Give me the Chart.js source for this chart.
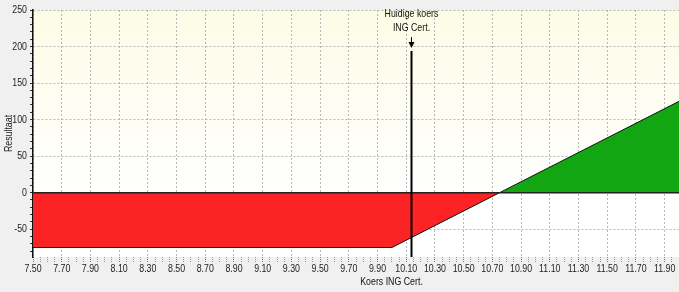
<!DOCTYPE html>
<html>
<head>
<meta charset="utf-8">
<script src="https://cdn.jsdelivr.net/npm/chart.js@4.4.1/dist/chart.umd.min.js"></script>
<style>
  html, body { margin: 0; padding: 0; background: #f0f0f0; }
  #wrap { width: 679px; height: 292px; }
</style>
</head>
<body>
<div id="wrap"><canvas id="payoff"></canvas></div>
<script>
// koers (x) en resultaat (y) van de uitbetalingslijn
var koers = [7.50, 10.00, 10.75, 12.00];
var resultaat = [-75, -75, 0, 125];
var xTickLabels = [7.50, 7.70, 7.90, 8.10, 8.30, 8.50, 8.70, 8.90, 9.10, 9.30, 9.50,
                   9.70, 9.90, 10.10, 10.30, 10.50, 10.70, 10.90, 11.10, 11.30, 11.50, 11.70, 11.90];
var yTickLabels = [-50, 0, 50, 100, 150, 200, 250];
var huidigeKoers = 10.13;
var huidigeLabel = ['Huidige koers', 'ING Cert.'];

var fontFam = '"Liberation Sans", Arial, sans-serif';
var ctx = document.getElementById("payoff");

// smalle letters, zoals Arial Narrow in het origineel
var smal = 0.8;
var ctx2d = ctx.getContext('2d');
var origFill = ctx2d.fillText.bind(ctx2d);
ctx2d.fillText = function(t, x, y, mw){
  var w = ctx2d.measureText(t).width * smal;
  if (mw !== undefined && mw < w) w = mw;
  origFill(t, x, y, w > 0 ? w : undefined);
};

function isMajorX(v){
  return xTickLabels.some(function(t){ return Math.abs(t - v) < 1e-6; });
}
function isMajorY(v){
  return yTickLabels.indexOf(Math.round(v)) >= 0 && Math.abs(v - Math.round(v)) < 1e-6;
}

var achtergrond = {
  id: 'achtergrond',
  beforeDraw: function(chart){
    var c = chart.ctx, a = chart.chartArea;
    c.save();
    c.fillStyle = '#f0f0f0';
    c.fillRect(0, 0, chart.width, chart.height);
    var g = c.createLinearGradient(0, a.top, 0, a.bottom);
    g.addColorStop(0, '#fdfce6');
    g.addColorStop(0.75, '#ffffff');
    g.addColorStop(1, '#ffffff');
    c.fillStyle = g;
    c.fillRect(a.left, a.top, a.right - a.left, a.bottom - a.top);
    c.restore();
  },
  afterDatasetsDraw: function(chart){
    var c = chart.ctx, a = chart.chartArea;
    var xs = chart.scales.x, ys = chart.scales.y;
    c.save();
    // nullijn
    c.strokeStyle = '#222';
    c.lineWidth = 1.5;
    c.beginPath();
    c.moveTo(a.left, ys.getPixelForValue(0));
    c.lineTo(a.right, ys.getPixelForValue(0));
    c.stroke();
    // huidige koers
    var px = Math.round(xs.getPixelForValue(huidigeKoers)) + 0.5;
    c.strokeStyle = '#000';
    c.lineWidth = 2;
    c.beginPath();
    c.moveTo(px, ys.getPixelForValue(194));
    c.lineTo(px, a.bottom);
    c.stroke();
    c.lineWidth = 1;
    c.beginPath();
    c.moveTo(px, ys.getPixelForValue(213));
    c.lineTo(px, ys.getPixelForValue(200));
    c.stroke();
    c.fillStyle = '#000';
    var tip = ys.getPixelForValue(198);
    c.beginPath();
    c.moveTo(px - 3, tip - 6);
    c.lineTo(px + 3, tip - 6);
    c.lineTo(px, tip);
    c.closePath();
    c.fill();
    c.font = '11px ' + fontFam;
    c.fillStyle = '#111';
    c.textAlign = 'center';
    c.textBaseline = 'middle';
    c.fillText(huidigeLabel[0], px, ys.getPixelForValue(245));
    c.fillText(huidigeLabel[1], px, ys.getPixelForValue(226));
    // as-titel x
    c.fillText('Koers ING Cert.', a.left + (a.right - a.left) * 0.555, chart.height - 10);
    c.restore();
  }
};

var myChart = new Chart(ctx, {
  type: 'scatter',
  data: {
    datasets: [{
      data: koers.map(function(k, i){ return {x: k, y: resultaat[i]}; }),
      showLine: true,
      borderColor: '#111',
      borderWidth: 1,
      pointRadius: 0,
      tension: 0,
      fill: { target: 'origin', above: '#12a612', below: '#fb2323' }
    }]
  },
  plugins: [achtergrond],
  options: {
    responsive: true,
    maintainAspectRatio: false,
    animation: false,
    layout: { padding: { top: 10, right: 0, left: 0, bottom: 0 } },
    plugins: { legend: { display: false }, tooltip: { enabled: false } },
    scales: {
      x: {
        type: 'linear',
        min: 7.5,
        max: 12.0,
        afterBuildTicks: function(scale){
          var t = [];
          for (var i = 0; i <= 89; i++) t.push({ value: 7.5 + i * 0.05 });
          scale.ticks = t;
        },
        afterFit: function(scale){ scale.height = 35; },
        border: { display: false, dash: [2, 2] },
        grid: {
          color: function(c){ return isMajorX(c.tick.value) ? '#b8b8b8' : 'rgba(0,0,0,0)'; },
          tickColor: function(c){ return isMajorX(c.tick.value) ? '#777' : '#999'; },
          tickLength: 5,
          tickBorderDash: [1, 1]
        },
        ticks: {
          autoSkip: false,
          maxRotation: 0,
          padding: 0,
          color: '#222',
          font: { family: fontFam, size: 11 },
          callback: function(v){ return isMajorX(v) ? v.toFixed(2) : ''; }
        }
      },
      y: {
        min: -88,
        max: 250,
        afterBuildTicks: function(scale){
          var t = [];
          for (var v = -80; v <= 250; v += 10) t.push({ value: v });
          scale.ticks = t;
        },
        afterFit: function(scale){ scale.width = 33; },
        border: { display: true, color: '#111', width: 1.5, dash: [2, 2] },
        grid: {
          color: function(c){ return isMajorY(c.tick.value) ? '#b8b8b8' : 'rgba(0,0,0,0)'; },
          tickColor: '#333',
          tickLength: 3,
          tickBorderDash: []
        },
        title: {
          display: true,
          text: 'Resultaat',
          color: '#222',
          padding: { top: 2, bottom: 0 },
          font: { family: fontFam, size: 11 }
        },
        ticks: {
          autoSkip: false,
          padding: 3,
          color: '#222',
          font: { family: fontFam, size: 11 },
          callback: function(v){ return isMajorY(v) ? String(v) : ''; }
        }
      }
    }
  }
});
</script>
</body>
</html>
